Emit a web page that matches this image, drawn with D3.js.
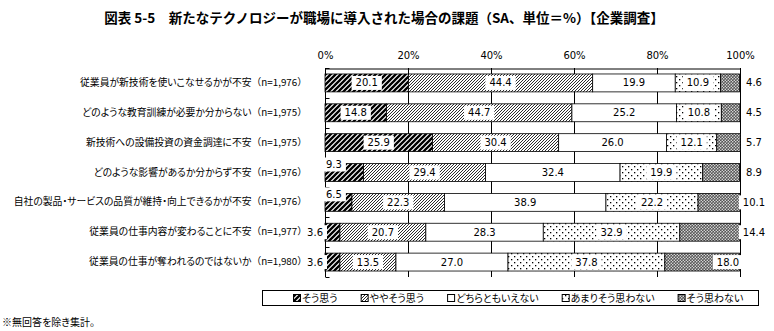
<!DOCTYPE html>
<html><head><meta charset="utf-8">
<script src="https://cdn.jsdelivr.net/npm/d3@7"></script>
<style>
body{margin:0;background:#fff;}
svg{display:block;}
.jp{font-family:"Noto Sans CJK JP","Noto Sans",sans-serif;font-feature-settings:"palt";}
.jpn{font-family:"Noto Sans CJK JP","Noto Sans",sans-serif;}
.num{font-family:"DejaVu Sans",Verdana,sans-serif;}
</style></head>
<body>
<svg id="c" width="774" height="331"></svg>
<script>
const title = "図表 5-5　新たなテクノロジーが職場に導入された場合の課題（SA、単位＝%）【企業調査】";
const categories = [
  "従業員が新技術を使いこなせるかが不安",
  "どのような教育訓練が必要か分からない",
  "新技術への設備投資の資金調達に不安",
  "どのような影響があるか分からず不安",
  "自社の製品・サービスの品質が維持・向上できるかが不安",
  "従業員の仕事内容が変わることに不安",
  "従業員の仕事が奪われるのではないか"
];
const sampleSizes = [1976, 1975, 1975, 1976, 1976, 1977, 1980];
const seriesNames = ["そう思う", "ややそう思う", "どちらともいえない", "あまりそう思わない", "そう思わない"];
const soOmou      = [20.1, 14.8, 25.9, 9.3, 6.5, 3.6, 3.6];
const yayaSoOmou  = [44.4, 44.7, 30.4, 29.4, 22.3, 20.7, 13.5];
const dochiraTomo = [19.9, 25.2, 26.0, 32.4, 38.9, 28.3, 27.0];
const amariOmowan = [10.9, 10.8, 12.1, 19.9, 22.2, 32.9, 37.8];
const soOmowanai  = [4.6, 4.5, 5.7, 8.9, 10.1, 14.4, 18.0];
const xTicks = [0, 20, 40, 60, 80, 100];
const footnote = "※無回答を除き集計。";

const seriesValues = [soOmou, yayaSoOmou, dochiraTomo, amariOmowan, soOmowanai];
const rows = categories.map((c, i) => {
  const r = {cat: c};
  seriesNames.forEach((s, j) => r[s] = seriesValues[j][i]);
  return r;
});

const svg = d3.select("#c");
const defs = svg.append("defs");
// patterns
const p1 = defs.append("pattern").attr("id","p0").attr("patternUnits","userSpaceOnUse").attr("width",5).attr("height",5);
p1.append("rect").attr("width",5).attr("height",5).attr("fill","#fff");
p1.append("path").attr("d","M-1,1 L1,-1 M0,5 L5,0 M4,6 L6,4").attr("stroke","#000").attr("stroke-width",2.3);
const p2 = defs.append("pattern").attr("id","p1").attr("patternUnits","userSpaceOnUse").attr("width",3).attr("height",3);
p2.append("rect").attr("width",3).attr("height",3).attr("fill","#fff");
p2.append("path").attr("d","M-1,1 L1,-1 M0,3 L3,0 M2,4 L4,2").attr("stroke","#222").attr("stroke-width",0.95);
const p3 = defs.append("pattern").attr("id","p2").attr("patternUnits","userSpaceOnUse").attr("width",4).attr("height",4);
p3.append("rect").attr("width",4).attr("height",4).attr("fill","#fff");
const p4 = defs.append("pattern").attr("id","p3").attr("patternUnits","userSpaceOnUse").attr("width",6).attr("height",6);
p4.append("rect").attr("width",6).attr("height",6).attr("fill","#fff");
p4.append("rect").attr("x",1).attr("y",1).attr("width",1.3).attr("height",1.3).attr("fill","#000");
p4.append("rect").attr("x",4).attr("y",4).attr("width",1.3).attr("height",1.3).attr("fill","#000");
const p5 = defs.append("pattern").attr("id","p4").attr("patternUnits","userSpaceOnUse").attr("width",3).attr("height",3);
p5.append("rect").attr("width",3).attr("height",3).attr("fill","#555");
p5.append("circle").attr("cx",0.75).attr("cy",0.75).attr("r",0.75).attr("fill","#eee");
p5.append("circle").attr("cx",2.25).attr("cy",2.25).attr("r",0.75).attr("fill","#eee");

// title
svg.append("text").attr("class","jpn").attr("x",384).attr("y",23)
  .attr("text-anchor","middle").attr("font-size",13.5).attr("font-weight",700).attr("fill","#000").text(title);

const x = d3.scaleLinear().domain([0,100]).range([325,740]);
const y = d3.scaleBand().domain(categories).range([68,277]).paddingInner(0.4).paddingOuter(0.2);

// gridlines
svg.append("g").selectAll("line").data(xTicks.filter(t => t > 0)).join("line")
  .attr("x1", d => x(d)).attr("x2", d => x(d)).attr("y1", 68).attr("y2", 277)
  .attr("stroke","#000").attr("stroke-width",1).attr("shape-rendering","crispEdges");

// top axis
const xAxis = d3.axisTop(x).tickValues(xTicks).tickSize(0).tickPadding(10).tickFormat(d => d + "%");
const gx = svg.append("g").attr("transform","translate(0,68.5)").call(xAxis);
gx.select(".domain").attr("stroke","#000");
gx.selectAll("text").attr("class","num").attr("font-size",10).attr("fill","#000");

// left axis
const step = y.step();
const boundaries = d3.range(categories.length + 1).map(i => 68 + i * step);
const gy = svg.append("g");
gy.append("line").attr("x1",325.5).attr("x2",325.5).attr("y1",68).attr("y2",277).attr("stroke","#000");
gy.selectAll("line.t").data(boundaries).join("line").attr("class","t")
  .attr("x1",325.5).attr("x2",329.5).attr("y1",d=>Math.round(d)+0.5).attr("y2",d=>Math.round(d)+0.5).attr("stroke","#000");
const yAxis = d3.axisLeft(y).tickSize(0).tickPadding(0).tickFormat(d => d);
const gyl = svg.append("g").attr("transform","translate(307,0)").call(yAxis);
gyl.select(".domain").remove();
gyl.selectAll("text").attr("class","jp").attr("font-size",9.8).attr("fill","#000")
  .each(function(d, i) {
    const t = d3.select(this);
    t.text(null);
    t.append("tspan").text(d);
    t.append("tspan").attr("class","jpn").style("font-feature-settings","normal")
      .text("（n=" + d3.format(",")(sampleSizes[i]) + "）");
  });

// bars
const stack = d3.stack().keys(seriesNames);
const stacked = stack(rows);
const barG = svg.append("g");
stacked.forEach((layer, j) => {
  barG.append("g").selectAll("rect").data(layer).join("rect")
    .attr("x", d => x(d[0])).attr("width", d => x(d[1]) - x(d[0]))
    .attr("y", d => y(d.data.cat)).attr("height", y.bandwidth())
    .attr("fill", `url(#p${j})`).attr("stroke","#000").attr("stroke-width",0.8);
});

// labels
const labG = svg.append("g");
stacked.forEach((layer, j) => {
  layer.forEach(d => {
    const v = d.data[seriesNames[j]];
    const cy = y(d.data.cat) + y.bandwidth() / 2;
    let lx = (x(d[0]) + x(d[1])) / 2, anchor = "middle", ly = cy;
    if (j === 0 && v < 5) { lx = x(0) - 2; anchor = "end"; }
    else if (j === 0 && v < 10) { lx = x(0) + 1; anchor = "start"; ly = cy - 8; }
    if (j === seriesNames.length - 1) { lx = v < 15 ? x(100) + 14 : x(100) - 12; }
    const g = labG.append("g");
    const t = g.append("text").attr("class","num").attr("x", lx).attr("y", ly).attr("dy","0.35em")
      .attr("text-anchor", anchor).attr("font-size", 10).attr("fill","#000").text(v.toFixed(1));
    const bb = t.node().getBBox();
    g.insert("rect","text").attr("x", bb.x - 4).attr("y", ly - 7).attr("width", bb.width + 8).attr("height", 14).attr("fill","#fff");
  });
});

// legend
const lg = svg.append("g");
lg.append("rect").attr("x",262.5).attr("y",290.5).attr("width",496).attr("height",15).attr("fill","#fff").attr("stroke","#000");
let lx = 293;
seriesNames.forEach((s, j) => {
  const it = lg.append("g");
  it.append("rect").attr("x", lx + 0.5).attr("y", 294.5).attr("width", 7).attr("height", 7)
    .attr("fill", `url(#p${j})`).attr("stroke","#000").attr("stroke-width",1);
  const t = it.append("text").attr("class","jp").attr("x", lx + 9).attr("y", 298).attr("dy","0.35em")
    .attr("font-size", 10).attr("fill","#000").text(s);
  lx += 9 + t.node().getComputedTextLength() + 23;
});

// footnote
svg.append("text").attr("class","jp").attr("x",2).attr("y",322).attr("dy","0.35em")
  .attr("font-size",10).attr("fill","#000").text(footnote);
</script>
</body></html>
